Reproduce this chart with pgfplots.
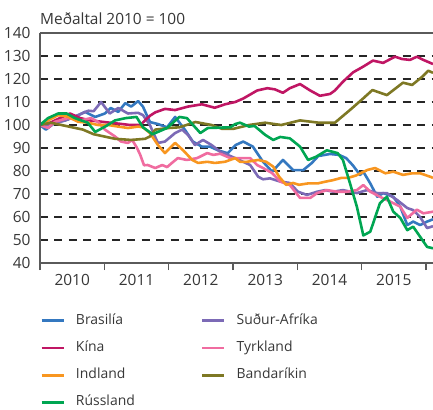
\documentclass[border=0pt]{standalone}
\usepackage{fontspec}
\setmainfont{Open Sans}
\usepackage{pgfplots}
\pgfplotsset{compat=1.18}

\definecolor{cBra}{RGB}{52,120,192}
\definecolor{cKin}{RGB}{192,22,100}
\definecolor{cInd}{RGB}{248,150,32}
\definecolor{cRus}{RGB}{0,166,82}
\definecolor{cSA}{RGB}{124,106,182}
\definecolor{cTyr}{RGB}{240,108,160}
\definecolor{cBan}{RGB}{126,120,36}
\definecolor{txt}{RGB}{55,55,55}
\definecolor{axl}{RGB}{90,90,90}

\begin{document}
\begin{tikzpicture}
\begin{axis}[
  at={(0,0)}, anchor=south west,
  scale only axis, width=393bp, height=230bp,
  xmin=0, xmax=73.3, ymin=40, ymax=140,
  clip=false,
  axis line style={draw=none},
  font=\fontsize{15.5}{18}\selectfont,
  /pgf/number format/assume math mode=true,
  ytick={40,50,...,140},
  ytick style={draw=none},
  yticklabel style={text=txt, xshift=1bp},
  ymajorgrids,
  grid style={dash pattern=on 8bp off 6.5bp, line width=1.1bp, black!85},
  xtick={0,12,...,72},
  xticklabels={2010,2011,2012,2013,2014,2015},
  x tick label as interval,
  xtick pos=bottom,
  tick align=outside,
  major tick length=7bp,
  xtick style={line width=1.2bp, draw=axl},
  xticklabel style={text=txt, yshift=-1bp},
  every axis plot/.append style={line width=2.6bp, line join=round, mark=none},
  legend columns=2,
  legend cell align=left,
  legend image code/.code={\draw[#1, line width=2.8bp] (0bp,0bp) -- (22bp,0bp);},
  legend style={at={(0,0)}, anchor=north west, yshift=-51bp, draw=none, fill=none,
    inner sep=0pt, row sep=14.2bp, text=txt, font=\fontsize{14}{16}\selectfont,
    nodes={inner sep=0pt, text height=10bp, text depth=3bp},
    /tikz/every odd column/.append style={column sep=11bp},
    /tikz/every even column/.append style={column sep=66bp}},
]
\addplot[cBra] coordinates {(0,100)(1.1,98)(2.8,101)(4.7,102)(6.5,103.5)(8.4,105.7)(10.3,103.5)(12.1,105)(13.2,107.4)(14.6,105.7)(15.9,109.5)(17,108)(18.3,110.4)(19.2,108)(20.5,101.3)(22,100.4)(23.7,99)(25.2,103.5)(27,98)(28.5,92.8)(30.2,90.6)(31.7,90.6)(33.2,89)(35,87.7)(36.5,91.3)(37.9,92.8)(39.7,90.6)(41.6,84)(43.3,79.7)(45.3,84.8)(47.2,80.4)(49.1,80.4)(50.7,83.5)(51.9,86.5)(54.1,87.4)(55.8,87)(57.1,85.6)(58.3,82.6)(59.7,78.3)(60.3,79.7)(61.6,74.6)(62.9,68.8)(64,70.4)(65.9,68.8)(67.2,64.5)(68.5,56.5)(69.6,58)(70.9,56.5)(72.2,58)(73.3,59)};
\addlegendentry{Brasilía}
\addplot[cSA] coordinates {(0,100)(1.5,100)(4.7,102)(7.1,104.3)(9,106.2)(10,106)(11.4,110)(13,105)(14.6,107.4)(16.4,105)(18.3,105.3)(19.2,104.3)(20.5,100)(21.3,95.7)(22,92.2)(23.3,92.8)(25.2,96.5)(26.5,98)(27.6,95.7)(28.9,91.3)(30.4,93.5)(32,91.3)(33.6,88.4)(35,87)(36.4,85.6)(37.9,84)(39.2,82.6)(40.7,77.5)(41.6,76.4)(42.9,76.8)(44.8,75.4)(46.6,74.8)(48.1,71)(49.8,69.6)(51.7,71)(53.2,71.7)(54.7,71)(56.5,71.7)(59.1,70.4)(61,71.7)(62.9,70.4)(64.7,70.4)(66.6,67.4)(68.5,63.9)(69.6,63)(70.9,60)(72.2,55.2)(73.3,56)};
\addlegendentry{Suður-Afríka}
\addplot[cKin] coordinates {(0,100)(1.9,101)(3.7,103)(5.6,105)(7.5,103)(9.3,102)(11.2,101.5)(13,101)(15,100.5)(16.8,100)(18.7,100)(19.6,102)(20.5,104)(21.5,105.5)(23.3,107)(25.2,106.5)(27.6,108)(30.2,109)(32.6,107.5)(34.5,109)(36.4,110)(37.9,111.5)(40.5,115)(42.4,116)(43.8,115.5)(45.3,114)(46.6,116)(48.5,117.8)(50.4,115)(52.2,112.7)(54.1,113.5)(55,115)(56.5,118.8)(58.4,122.9)(60.3,125.4)(62.1,128)(64,127)(66.2,129.7)(67.5,128.7)(69,128.3)(70.3,129.7)(71.5,128.3)(73.3,126.5)};
\addlegendentry{Kína}
\addplot[cTyr] coordinates {(0,100)(1.5,98.7)(2.8,101.4)(5.2,103)(7.6,102)(9.5,103)(10.8,101.4)(12.1,98)(14,95)(15.1,92.8)(16.4,92.2)(17.2,93.5)(18.1,90)(18.7,87)(19.4,82.5)(20.1,82.6)(21.5,81.3)(22.8,82.6)(23.7,81.7)(24.6,83.5)(25.7,85.6)(27.4,84.8)(29.3,85.6)(31.2,87.8)(32.3,87)(33.6,87.5)(35.5,85.6)(37.3,85.6)(39.2,85.6)(40.5,82.6)(41.6,81.3)(43.3,79.1)(44.8,75.4)(46.6,73.9)(48.5,68.3)(50.4,68.3)(51.7,70.4)(53.5,71.7)(55.4,71)(57.3,71)(59.1,71.7)(60.3,73.9)(61.6,71)(63.4,68.8)(65.3,66.7)(67.2,64.5)(68.5,59.6)(70.3,63.2)(71.5,61.6)(73.3,62.3)};
\addlegendentry{Tyrkland}
\addplot[cInd] coordinates {(0,100)(1.5,102)(3.4,104.3)(5.2,103.6)(7.1,101.4)(9,101)(10.8,100)(12.7,100)(14.6,99.3)(16.4,98.7)(18.3,99.3)(19.2,99)(20.5,96.5)(22,91.3)(23.3,87.8)(25.2,92.2)(26.7,89)(28.4,84.8)(29.5,83.5)(31.2,84)(32.6,83.5)(34.5,84)(36.4,85.6)(37.3,84)(38.6,84)(40.7,84.8)(42.2,84)(43.5,81.9)(44.6,77.5)(45.9,74)(47.2,74.8)(48.3,74)(50,74.6)(51.8,74.6)(53.3,75.4)(54.6,76)(56.2,77)(57.4,77)(58.9,78)(61,80.4)(62.5,81.3)(64.4,79)(65.9,79.7)(67.7,78.3)(69.4,79)(70.9,79)(72.8,77.5)(73.3,77)};
\addlegendentry{Indland}
\addplot[cBan] coordinates {(0,100)(2,101)(4,100)(6,99)(8,98)(10,96)(12,95)(14,94)(17,93.5)(19.6,94)(20.5,95)(21.5,98)(24,98.7)(26,99)(29,101.3)(32,100)(34,98.3)(36,98.3)(39,100)(42,101)(45,100)(48.5,102)(52,101)(55,101)(57.8,106.5)(60.3,111.6)(62,115.2)(64.7,113)(67.7,118.4)(69.4,117.4)(71.3,121)(72.4,123.6)(73.3,122.7)};
\addlegendentry{Bandaríkin}
\addplot[cRus] coordinates {(0,100)(1.5,103)(3.4,105)(5,105)(6.5,103)(8.9,101)(10.3,97)(12.3,99.5)(14,102)(16,103)(18,103.5)(19.2,99)(21,96)(23.7,98.7)(26,103.5)(27.4,103)(29.9,96.5)(31.3,98.7)(35.5,99)(36.4,100.4)(37.3,101)(39,99.3)(40,99.6)(42,95.7)(43.5,93.5)(44.8,94.8)(46.6,94.2)(48.5,90.6)(50,84.8)(51.5,86.2)(53.5,89)(55.5,87.8)(56.5,84.8)(57.8,74.8)(59.1,64.5)(60.3,52)(61.6,53.6)(63.4,66)(64.7,68.8)(65.9,62.3)(67.2,59.6)(68.5,54.3)(69.6,55.8)(70.9,51.4)(72.2,47)(73.3,46.4)};
\addlegendentry{Rússland}
% frame: left, bottom, top
\draw[line width=1.3bp, draw=axl] (rel axis cs:0,1) -- (rel axis cs:0,0) -- (rel axis cs:1,0);
\draw[line width=1.3bp, draw=axl] (rel axis cs:0,1) -- (rel axis cs:1,1);
\node[anchor=base west, inner sep=0pt, text=txt] at (rel axis cs:0,1) [yshift=8bp] {Meðaltal 2010 = 100};
\end{axis}
\pgfresetboundingbox
\useasboundingbox (-40bp,-147bp) rectangle (393bp,263bp);
\end{tikzpicture}
\end{document}
